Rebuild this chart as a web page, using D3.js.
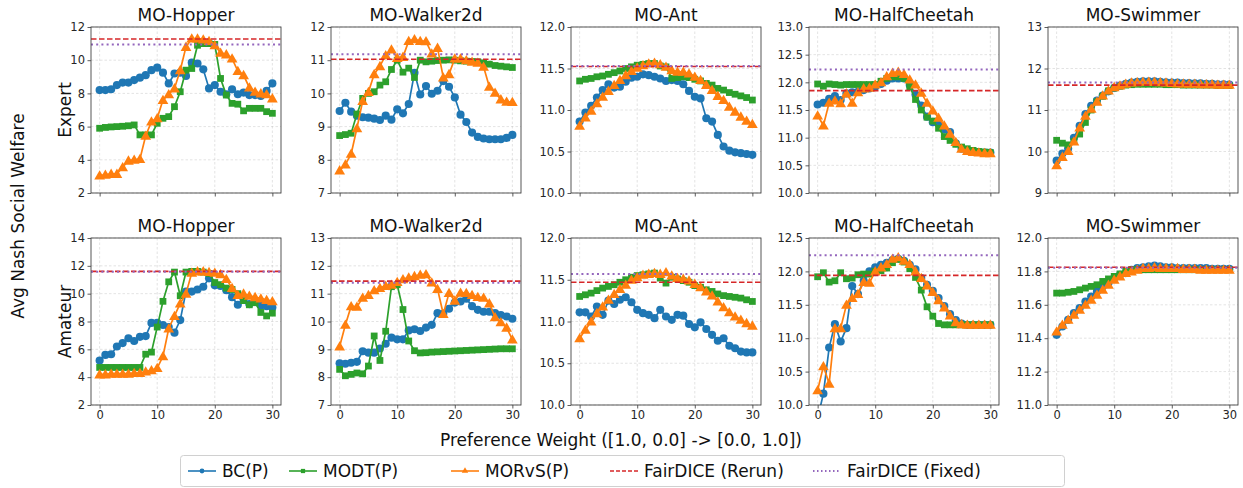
<!DOCTYPE html>
<html><head><meta charset="utf-8">
<script src="https://cdn.jsdelivr.net/npm/d3@7"></script>
<style>body{margin:0;background:#fff;} svg text{font-family:"DejaVu Sans",sans-serif;}</style>
</head><body><svg id="c" width="1243" height="488"></svg>
<script>
// ---------------- DATA ----------------
const prefIndex = [0,1,2,3,4,5,6,7,8,9,10,11,12,13,14,15,16,17,18,19,20,21,22,23,24,25,26,27,28,29,30];
const envNames = ["MO-Hopper","MO-Walker2d","MO-Ant","MO-HalfCheetah","MO-Swimmer"];
const rowNames = ["Expert","Amateur"];
const seriesNames = ["BC(P)","MODT(P)","MORvS(P)","FairDICE (Rerun)","FairDICE (Fixed)"];
const xTicks = [0,10,20,30];

// Expert row
const bcExpertHopper = [8.2,8.2,8.25,8.5,8.65,8.65,8.8,8.95,9.1,9.4,9.55,9.25,8.6,9.2,9.25,9.05,9.85,9.8,9.45,8.3,8.5,8.1,7.95,8.25,7.95,8.05,7.9,7.9,7.85,8.15,8.6];
const modtExpertHopper = [5.9,5.95,5.98,6.0,6.02,6.05,6.1,5.5,5.5,5.5,6.2,6.5,6.6,7.2,8.1,9.4,9.5,10.9,11.0,11.0,10.95,8.9,7.9,7.4,7.35,6.95,7.1,7.1,7.1,6.9,6.8];
const morvsExpertHopper = [3.05,3.1,3.15,3.15,3.55,3.95,4.0,4.05,5.45,6.3,6.5,7.6,7.95,8.3,9.4,10.8,11.3,11.3,11.25,11.15,10.9,10.45,10.35,10.1,9.35,9.1,8.35,8.1,8.0,7.95,7.7];
const bcExpertWalker = [9.47,9.72,9.45,9.33,9.28,9.27,9.24,9.2,9.33,9.21,9.52,9.4,9.68,10.62,9.97,10.22,9.99,10.08,10.37,10.2,9.88,9.36,9.14,8.82,8.69,8.64,8.62,8.62,8.62,8.66,8.75];
const modtExpertWalker = [8.73,8.76,8.8,9.38,9.85,10.0,10.05,10.25,10.35,10.72,11.0,10.64,10.76,10.48,11.0,10.95,10.97,10.99,11.0,11.01,11.0,10.98,10.97,10.96,10.95,10.92,10.88,10.84,10.82,10.8,10.78];
const morvsExpertWalker = [7.68,7.86,8.18,8.95,9.77,10.04,10.58,10.82,11.15,11.32,11.07,11.1,11.58,11.63,11.58,11.57,11.2,11.37,10.48,10.58,11.05,11.05,11.0,10.95,10.92,10.8,10.2,10.02,9.82,9.75,9.74];
const bcExpertAnt = [10.86,10.97,11.05,11.15,11.24,11.31,11.27,11.28,11.34,11.39,11.4,11.43,11.42,11.4,11.38,11.35,11.36,11.35,11.31,11.23,11.16,11.14,10.9,10.86,10.7,10.56,10.51,10.49,10.48,10.47,10.46];
const modtExpertAnt = [11.35,11.37,11.38,11.4,11.41,11.43,11.45,11.47,11.5,11.52,11.54,11.55,11.56,11.56,11.53,11.52,11.38,11.39,11.4,11.39,11.37,11.35,11.32,11.3,11.26,11.24,11.21,11.19,11.17,11.15,11.12];
const morvsExpertAnt = [10.81,10.91,10.99,11.08,11.16,11.23,11.3,11.36,11.42,11.47,11.51,11.54,11.56,11.57,11.55,11.52,11.48,11.46,11.46,11.44,11.4,11.36,11.3,11.24,11.17,11.12,11.04,10.98,10.92,10.87,10.83];
const bcExpertCheetah = [11.6,11.63,11.7,11.75,11.68,11.8,11.82,11.83,11.86,11.89,11.92,11.97,12.03,12.07,12.07,12.07,11.95,11.78,11.58,11.38,11.28,11.25,11.15,11.1,10.9,10.8,10.77,10.75,10.74,10.73,10.73];
const modtExpertCheetah = [11.97,11.93,11.97,11.96,11.95,11.96,11.96,11.96,11.96,11.96,11.96,12.02,12.07,12.1,12.1,12.07,11.92,11.69,11.5,11.37,11.3,11.17,11.02,10.95,10.88,10.83,10.8,10.77,10.75,10.74,10.73];
const morvsExpertCheetah = [11.4,11.22,11.63,11.67,11.62,11.8,11.63,11.82,11.89,11.9,11.96,12.0,12.11,12.17,12.19,12.15,12.05,11.96,11.81,11.63,11.49,11.36,11.22,11.07,10.92,10.8,10.76,10.74,10.73,10.72,10.72];
const bcExpertSwimmer = [9.78,9.95,10.07,10.33,10.62,10.9,11.1,11.23,11.35,11.45,11.53,11.59,11.63,11.66,11.68,11.69,11.69,11.69,11.68,11.67,11.66,11.66,11.65,11.65,11.64,11.64,11.63,11.63,11.62,11.62,11.61];
const modtExpertSwimmer = [10.27,10.2,10.16,10.24,10.42,10.7,11.0,11.2,11.33,11.46,11.53,11.57,11.6,11.61,11.62,11.62,11.62,11.62,11.62,11.61,11.61,11.61,11.6,11.6,11.6,11.6,11.6,11.6,11.59,11.59,11.59];
const morvsExpertSwimmer = [9.67,9.87,10.01,10.24,10.58,10.86,11.03,11.2,11.35,11.47,11.55,11.59,11.63,11.66,11.67,11.68,11.68,11.68,11.67,11.66,11.65,11.64,11.64,11.63,11.63,11.62,11.62,11.62,11.61,11.61,11.61];

// Amateur row
const bcAmateurHopper = [5.2,5.6,5.65,6.2,6.45,6.8,6.6,6.9,6.95,7.9,7.9,7.75,7.6,7.2,8.1,10.15,10.15,10.3,10.5,11.1,10.6,10.55,10.25,9.75,9.2,9.6,9.25,9.4,9.15,9.1,9.0];
const modtAmateurHopper = [4.7,4.7,4.7,4.7,4.7,4.7,4.7,4.7,5.65,5.8,7.6,9.45,10.85,11.55,9.85,11.55,11.6,11.6,11.55,11.45,10.8,10.65,10.4,10.3,10.0,9.5,9.2,9.35,8.65,8.4,8.6];
const morvsAmateurHopper = [4.2,4.2,4.25,4.25,4.25,4.25,4.3,4.3,4.4,4.5,4.65,5.5,7.5,8.4,9.3,10.0,11.5,11.6,11.6,11.55,11.5,11.4,11.05,10.4,9.9,10.0,9.85,9.75,9.65,9.55,9.45];
const bcAmateurWalker = [8.5,8.48,8.52,8.55,8.93,8.88,8.88,9.03,9.2,9.42,9.36,9.36,9.68,9.72,9.66,9.78,9.88,10.3,10.28,10.46,10.68,10.72,10.82,10.55,10.42,10.35,10.35,10.3,10.23,10.18,10.1];
const modtAmateurWalker = [8.28,8.05,8.1,8.15,8.12,8.4,9.48,8.6,9.65,11.25,11.32,10.43,9.3,8.95,8.87,8.88,8.9,8.91,8.92,8.93,8.94,8.95,8.96,8.97,8.98,8.99,9.0,9.01,9.02,9.02,9.02];
const morvsAmateurWalker = [9.1,9.88,10.55,10.53,10.85,10.95,11.12,11.2,11.28,11.32,11.42,11.52,11.58,11.63,11.68,11.7,11.4,11.17,10.27,11.02,10.75,11.03,11.02,10.95,10.88,10.85,10.65,10.15,9.97,9.78,9.35];
const bcAmateurAnt = [11.11,11.11,11.06,11.18,11.08,11.25,11.21,11.26,11.29,11.23,11.14,11.1,11.08,11.04,11.14,11.06,11.02,11.08,11.07,10.97,10.93,10.99,10.91,10.84,10.77,10.8,10.71,10.68,10.64,10.63,10.63];
const modtAmateurAnt = [11.3,11.32,11.34,11.37,11.4,11.42,11.44,11.47,11.5,11.53,11.55,11.56,11.57,11.58,11.52,11.46,11.53,11.51,11.49,11.47,11.43,11.41,11.38,11.36,11.33,11.31,11.3,11.29,11.28,11.26,11.24];
const morvsAmateurAnt = [10.8,10.9,11.0,11.1,11.18,11.26,11.33,11.39,11.44,11.5,11.53,11.56,11.57,11.58,11.57,11.59,11.55,11.52,11.51,11.49,11.45,11.41,11.36,11.31,11.24,11.17,11.11,11.06,11.02,10.98,10.95];
const bcAmateurCheetah = [9.8,10.17,10.86,11.21,10.95,11.15,11.78,11.66,11.86,12.0,12.06,12.1,12.13,12.17,12.19,12.16,12.1,12.03,11.9,11.8,11.71,11.6,11.48,11.36,11.27,11.22,11.2,11.2,11.2,11.2,11.2];
const modtAmateurCheetah = [11.92,11.98,11.84,11.86,11.98,11.89,11.9,11.95,11.96,11.96,12.0,12.01,12.05,12.13,12.18,12.14,12.04,11.91,11.72,11.47,11.33,11.22,11.2,11.2,11.2,11.2,11.2,11.2,11.2,11.2,11.2];
const morvsAmateurCheetah = [10.22,10.58,10.32,11.15,11.15,11.5,11.6,11.66,11.84,11.83,12.0,12.06,12.11,12.19,12.21,12.16,12.11,12.0,11.9,11.79,11.69,11.57,11.46,11.34,11.24,11.21,11.2,11.2,11.2,11.2,11.2];
const bcAmateurSwimmer = [11.42,11.47,11.51,11.55,11.58,11.62,11.65,11.68,11.71,11.73,11.76,11.78,11.79,11.81,11.82,11.825,11.83,11.835,11.83,11.825,11.825,11.82,11.82,11.82,11.82,11.82,11.82,11.815,11.815,11.815,11.815];
const modtAmateurSwimmer = [11.67,11.67,11.675,11.68,11.69,11.7,11.71,11.72,11.74,11.755,11.77,11.785,11.8,11.81,11.81,11.81,11.81,11.81,11.81,11.81,11.81,11.81,11.81,11.81,11.81,11.81,11.81,11.81,11.81,11.81,11.81];
const morvsAmateurSwimmer = [11.44,11.48,11.51,11.54,11.57,11.6,11.63,11.66,11.69,11.72,11.75,11.77,11.79,11.8,11.81,11.82,11.82,11.825,11.82,11.82,11.82,11.82,11.815,11.815,11.815,11.81,11.81,11.81,11.81,11.81,11.81];

// FairDICE reference levels [Hopper, Walker2d, Ant, HalfCheetah, Swimmer]
const rerunExpert = [11.28,11.03,11.525,11.85,11.6];
const fixedExpert = [10.95,11.18,11.53,12.23,11.66];
const rerunAmateur = [11.6,11.45,11.47,11.94,11.825];
const fixedAmateur = [11.57,11.39,11.57,12.24,11.822];

// y-axis domains and ticks
const yDomExpert = [[2,12],[7,12],[10,12],[10,13],[9,13]];
const yTickExpert = [[2,4,6,8,10,12],[7,8,9,10,11,12],[10,10.5,11,11.5,12],[10,10.5,11,11.5,12,12.5,13],[9,10,11,12,13]];
const yDomAmateur = [[2,14],[7,13],[10,12],[10,12.5],[11,12]];
const yTickAmateur = [[2,4,6,8,10,12,14],[7,8,9,10,11,12,13],[10,10.5,11,11.5,12],[10,10.5,11,11.5,12,12.5],[11,11.2,11.4,11.6,11.8,12]];
const yFmtExpert = ["d","d",".1f",".1f","d"];
const yFmtAmateur = ["d","d",".1f",".1f",".1f"];

// ---------------- BUILD ----------------
const rowsData = [
  {name: rowNames[0], series: [
    [bcExpertHopper,modtExpertHopper,morvsExpertHopper],
    [bcExpertWalker,modtExpertWalker,morvsExpertWalker],
    [bcExpertAnt,modtExpertAnt,morvsExpertAnt],
    [bcExpertCheetah,modtExpertCheetah,morvsExpertCheetah],
    [bcExpertSwimmer,modtExpertSwimmer,morvsExpertSwimmer]],
   rerun: rerunExpert, fixed: fixedExpert, dom: yDomExpert, ticks: yTickExpert, fmt: yFmtExpert},
  {name: rowNames[1], series: [
    [bcAmateurHopper,modtAmateurHopper,morvsAmateurHopper],
    [bcAmateurWalker,modtAmateurWalker,morvsAmateurWalker],
    [bcAmateurAnt,modtAmateurAnt,morvsAmateurAnt],
    [bcAmateurCheetah,modtAmateurCheetah,morvsAmateurCheetah],
    [bcAmateurSwimmer,modtAmateurSwimmer,morvsAmateurSwimmer]],
   rerun: rerunAmateur, fixed: fixedAmateur, dom: yDomAmateur, ticks: yTickAmateur, fmt: yFmtAmateur}
];

const colors = ["#1f77b4","#2ca02c","#ff7f0e","#d62728","#9467bd"];
const symbols = [d3.symbolCircle, d3.symbolSquare, d3.symbolTriangle];
const symSizes = [52, 46, 50];

const colX = [91, 331, 571, 809, 1048];
const panelW = 190;
const rowY = [[27,193],[238,405]];

const svg = d3.select("#c");
const defs = svg.append("defs");

rowsData.forEach((row, ri) => {
  const [top, bottom] = rowY[ri];
  envNames.forEach((env, ci) => {
    const x0 = colX[ci];
    const x = d3.scaleLinear().domain([-1.5, 31.5]).range([x0, x0 + panelW]);
    const y = d3.scaleLinear().domain(row.dom[ci]).range([bottom, top]);
    const clipId = `clip-${ri}-${ci}`;
    defs.append("clipPath").attr("id", clipId).append("rect")
      .attr("x", x0).attr("y", top).attr("width", panelW).attr("height", bottom - top);
    const g = svg.append("g");
    // grid
    const grid = g.append("g");
    grid.selectAll(".gx").data(xTicks).join("line")
      .attr("x1", d => x(d)).attr("x2", d => x(d)).attr("y1", top).attr("y2", bottom)
      .attr("stroke", "#b0b0b0").attr("stroke-opacity", 0.45).attr("stroke-width", 0.8).attr("stroke-dasharray", "2.5,2");
    grid.selectAll(".gy").data(row.ticks[ci]).join("line")
      .attr("x1", x0).attr("x2", x0 + panelW).attr("y1", d => y(d)).attr("y2", d => y(d))
      .attr("stroke", "#b0b0b0").attr("stroke-opacity", 0.45).attr("stroke-width", 0.8).attr("stroke-dasharray", "2.5,2");

    const plot = g.append("g").attr("clip-path", `url(#${clipId})`);
    // series lines + markers
    row.series[ci].forEach((vals, si) => {
      const pts = prefIndex.map((p, i) => [p, vals[i]]);
      plot.append("path").datum(pts)
        .attr("fill", "none").attr("stroke", colors[si]).attr("stroke-width", 1.7)
        .attr("d", d3.line().x(d => x(d[0])).y(d => y(d[1])));
      plot.selectAll(null).data(pts).join("path")
        .attr("transform", d => `translate(${x(d[0])},${y(d[1]) + (si === 2 ? 0.9 : 0)})`)
        .attr("d", d3.symbol().type(symbols[si]).size(symSizes[si]))
        .attr("fill", colors[si]);
    });
    // FairDICE lines
    plot.append("line").attr("x1", x0).attr("x2", x0 + panelW)
      .attr("y1", y(row.rerun[ci])).attr("y2", y(row.rerun[ci]))
      .attr("stroke", colors[3]).attr("stroke-width", 1.6).attr("stroke-dasharray", "5.5,2.5");
    plot.append("line").attr("x1", x0).attr("x2", x0 + panelW)
      .attr("y1", y(row.fixed[ci])).attr("y2", y(row.fixed[ci]))
      .attr("stroke", colors[4]).attr("stroke-width", 2).attr("stroke-dasharray", "2,3.2");

    // axes
    const fmt = d3.format(row.fmt[ci]);
    const ay = g.append("g").attr("transform", `translate(${x0},0)`)
      .call(d3.axisLeft(y).tickValues(row.ticks[ci]).tickFormat(fmt).tickSize(3.5).tickPadding(2.5));
    const ax = g.append("g").attr("transform", `translate(0,${bottom})`)
      .call(d3.axisBottom(x).tickValues(xTicks).tickSize(3.5).tickPadding(2.5)
        .tickFormat(ri === 1 ? d3.format("d") : () => ""));
    [ax, ay].forEach(a => {
      a.select(".domain").remove();
      a.selectAll(".tick line").attr("stroke", "#333").attr("stroke-width", 0.8);
      a.selectAll(".tick text").attr("fill", "#262626").style("font-size", "11.5px");
    });
    // frame
    g.append("rect").attr("x", x0).attr("y", top).attr("width", panelW).attr("height", bottom - top)
      .attr("fill", "none").attr("stroke", "#444").attr("stroke-width", 0.9);
    // title
    g.append("text").attr("x", x0 + panelW / 2).attr("y", top - 6)
      .attr("text-anchor", "middle").style("font-size", "17px").attr("fill", "#111").text(env);
  });
  // row label
  svg.append("text")
    .attr("transform", `translate(71,${(top + bottom) / 2}) rotate(-90)`)
    .attr("text-anchor", "middle").style("font-size", "17px").attr("fill", "#111").text(row.name);
});

// global labels
svg.append("text").attr("transform", `translate(24,216) rotate(-90)`)
  .attr("text-anchor", "middle").style("font-size", "17px").attr("fill", "#111").text("Avg Nash Social Welfare");
svg.append("text").attr("x", 621).attr("y", 446).attr("text-anchor", "middle")
  .style("font-size", "17px").attr("fill", "#111").text("Preference Weight ([1.0, 0.0] -> [0.0, 1.0])");

// legend
const legG = svg.append("g");
legG.append("rect").attr("x", 180.5).attr("y", 455.5).attr("width", 884).attr("height", 31).attr("rx", 3)
  .attr("fill", "#fff").attr("stroke", "#d0d0d0").attr("stroke-width", 1);
const legHandleX = [188, 289, 451, 610, 813];
seriesNames.forEach((name, i) => {
  const hx = legHandleX[i], hy = 471;
  const item = legG.append("g");
  const ln = item.append("line").attr("x1", hx).attr("x2", hx + 28).attr("y1", hy).attr("y2", hy)
    .attr("stroke", colors[i]).attr("stroke-width", i === 4 ? 2 : 1.6);
  if (i === 3) ln.attr("stroke-dasharray", "4,2");
  if (i === 4) ln.attr("stroke-dasharray", "1.5,2.5");
  if (i < 3) item.append("path").attr("transform", `translate(${hx + 14},${hy})`)
    .attr("d", d3.symbol().type(symbols[i]).size(18)).attr("fill", colors[i]);
  item.append("text").attr("x", hx + 34).attr("y", hy + 6).style("font-size", "17px").attr("fill", "#111").text(name);
});
</script></body></html>
